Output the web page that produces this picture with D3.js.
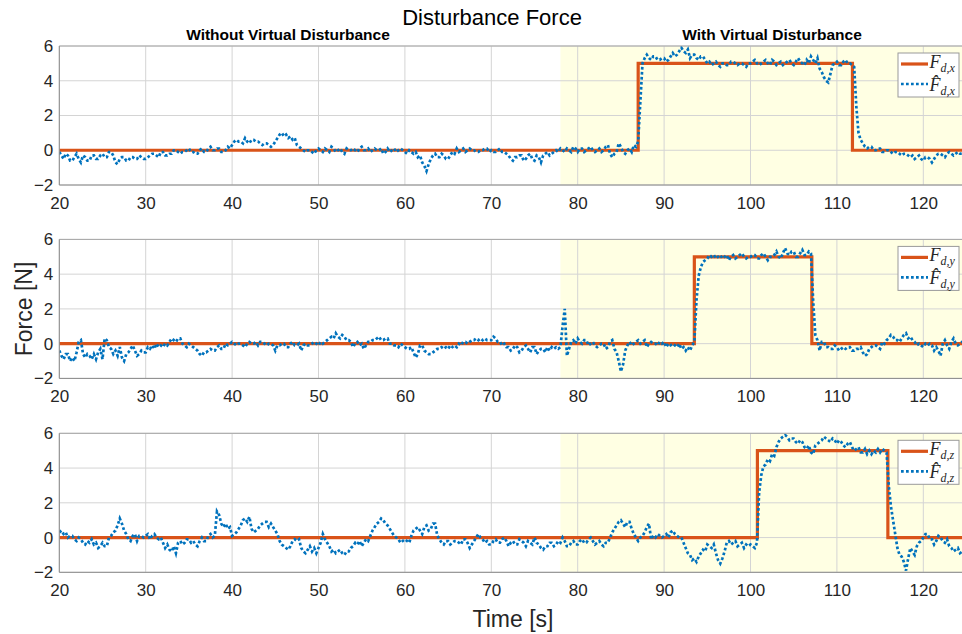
<!DOCTYPE html>
<html>
<head>
<meta charset="utf-8">
<script src="https://cdn.jsdelivr.net/npm/d3@7"></script>
<style>
  body { margin: 0; background: #fff; }
  svg { display: block; font-family: "Liberation Sans", Arial, Helvetica, sans-serif; }
</style>
</head>
<body>
<svg id="chart" width="962" height="634"></svg>
<script>
// ---- axis setup ----
const xDomain = [20, 125];
const yDomain = [-2, 6];
const xTicks = [20, 30, 40, 50, 60, 70, 80, 90, 100, 110, 120];
const yTicks = [-2, 0, 2, 4, 6];
const shadeStart = 78;           // virtual disturbance phase begins here
const components = ["x", "y", "z"];

// ---- applied disturbance (step profile: value holds until next switch time) ----
const fxSwitchTimes = [20, 87.0, 111.8, 125];
const fxApplied     = [0, 5, 0, 0];
const fySwitchTimes = [20, 93.5, 107.1, 125];
const fyApplied     = [0, 5, 0, 0];
const fzSwitchTimes = [20, 100.8, 115.9, 125];
const fzApplied     = [0, 5, 0, 0];

// ---- estimated disturbance, sampled every 0.25 s from t = 20 s ----
const sampleStart = 20;
const sampleStep = 0.25;

const fxEstimate = [
  -0.1,-0.3,-0.5,-0.2,  -0.3,-0.6,-0.6,-0.4,  -0.2,-0.5,-0.7,-0.3,  -0.4,-0.6,-0.6,-0.3,  -0.3,-0.5,-0.5,-0.3,
  -0.2,-0.4,-0.4,-0.1,  -0.1,-0.3,-0.7,-0.8,  -0.5,-0.4,-0.4,-0.6,  -0.6,-0.4,-0.4,-0.5,  -0.5,-0.3,-0.4,-0.5,
  -0.5,-0.4,-0.3,-0.2,  -0.2,-0.3,-0.4,-0.1,  -0.1,-0.3,-0.3,-0.2,  -0.2,0.0,0.0,-0.1,    -0.2,-0.1,-0.1,0.0,
  0.1,-0.1,-0.1,-0.2,   -0.2,0.0,0.1,-0.1,    -0.1,0.1,0.2,0.0,     0.0,0.1,0.1,-0.1,     -0.1,0.0,0.2,0.1,
  0.3,0.5,0.6,0.5,      0.5,0.4,0.7,0.5,      0.4,0.6,0.6,0.5,      0.5,0.4,0.3,0.4,      0.4,0.3,0.2,0.3,
  0.5,0.7,0.9,1.0,      0.8,0.9,0.7,0.8,      0.6,0.7,0.3,0.2,      0.1,0.0,-0.1,0.0,     0.0,-0.1,-0.2,0.0,
  0.1,0.0,-0.1,0.1,     0.0,-0.1,0.2,0.1,     -0.1,0.0,0.1,-0.1,    -0.2,0.1,0.0,0.0,     0.1,0.0,-0.1,0.1,
  0.2,0.0,0.0,0.1,      -0.1,0.0,0.1,0.0,     0.0,0.1,-0.2,-0.1,    0.1,-0.1,0.0,0.1,     -0.1,0.0,0.1,0.0,
  -0.1,-0.2,0.0,-0.1,   -0.2,-0.1,-0.4,-0.3,  -0.7,-0.9,-1.2,-0.8,  -0.5,-0.3,-0.2,-0.4,  -0.4,-0.2,-0.3,-0.5,
  -0.5,-0.3,-0.1,-0.2,  0.1,-0.1,0.0,0.1,     -0.1,0.0,0.1,0.0,     0.0,-0.1,-0.1,0.0,    0.0,0.1,0.1,-0.1,
  0.0,-0.1,-0.1,0.0,    0.1,-0.1,-0.1,-0.2,   -0.3,-0.5,-0.6,-0.4,  -0.4,-0.3,-0.3,-0.6,  -0.5,-0.3,-0.2,-0.5,
  -0.6,-0.3,-0.4,-0.7,  -0.3,-0.2,-0.1,-0.3,  -0.2,-0.1,0.0,-0.1,   0.1,0.0,-0.1,0.1,     0.0,-0.1,0.2,0.1,
  -0.1,0.1,0.1,-0.1,    0.0,0.1,0.2,0.0,      -0.1,0.0,0.1,-0.1,    0.0,0.2,0.3,-0.2,     -0.4,-0.2,-0.1,0.4,
  0.2,-0.1,-0.2,0.0,    0.1,-0.1,0.3,0.2,     0.5,2.8,5.0,5.3,      5.5,5.3,5.2,5.4,      5.4,5.2,5.2,5.3,
  5.3,5.1,5.2,5.4,      5.6,5.4,5.5,5.7,      5.9,5.7,5.6,5.8,      5.3,5.5,5.5,5.3,      5.2,5.4,5.4,5.2,
  5.0,5.1,4.9,5.0,      5.1,4.9,4.8,5.0,      5.0,4.9,4.9,5.1,      5.1,5.0,4.9,5.0,      5.0,4.9,4.8,5.0,
  5.0,5.1,5.2,5.0,      4.9,5.0,5.1,5.2,      5.0,4.9,5.2,5.1,      4.9,5.0,5.1,4.9,      5.0,5.1,5.2,5.0,
  4.9,5.1,5.3,5.1,      5.0,4.9,5.2,5.0,      5.4,5.2,5.0,5.3,      4.7,4.5,4.2,4.0,      3.9,4.4,4.9,5.0,
  5.1,4.9,4.9,5.1,      5.2,5.0,5.0,4.9,      4.8,2.5,1.0,0.6,      0.4,0.2,0.1,0.2,      0.2,0.0,0.0,0.1,
  0.1,-0.1,-0.1,0.0,    0.0,-0.1,-0.2,-0.1,   -0.1,-0.2,-0.3,-0.2,  -0.2,-0.3,-0.4,-0.3,  -0.5,-0.4,-0.3,-0.5,
  -0.6,-0.4,-0.4,-0.5,  -0.7,-0.5,-0.3,-0.2,  -0.2,-0.3,-0.4,-0.2,  -0.1,-0.2,-0.3,-0.2,  -0.1,-0.2,-0.2,-0.3,
  -0.3
];

const fyEstimate = [
  -0.4,-0.7,-0.9,-0.6,  -0.6,-1.0,-0.8,-1.0,  -0.5,0.1,0.2,-0.6,    -0.8,-0.6,-0.7,-0.9,  -0.6,-0.9,-0.5,-0.3,
  -0.9,0.3,0.2,-0.2,    -0.3,-0.6,-0.4,-0.7,  -0.2,-0.8,-1.0,-0.6,  -0.5,-0.3,-0.1,-0.4,  -0.7,-0.6,-0.4,-0.5,
  -0.5,-0.2,-0.3,-0.1,  -0.3,0.0,-0.2,-0.1,   -0.2,0.0,-0.1,0.1,    0.3,0.2,0.1,0.3,      0.3,0.0,-0.1,-0.2,
  0.0,-0.1,-0.2,-0.3,   -0.4,-0.6,-0.7,-0.5,  -0.5,-0.4,-0.3,-0.4,  -0.4,-0.2,-0.1,-0.3,  -0.3,0.0,-0.1,0.0,
  0.1,0.0,-0.1,0.0,     0.0,-0.1,-0.2,0.0,    0.1,0.0,0.0,0.1,      -0.1,0.1,0.1,0.0,     -0.1,0.0,0.0,-0.1,
  -0.4,-0.1,-0.1,0.0,   0.0,-0.2,-0.2,0.0,    0.1,-0.1,-0.1,0.0,    -0.4,-0.1,0.0,-0.1,   -0.1,0.0,0.1,0.0,
  -0.1,0.1,0.0,0.1,     0.2,0.3,0.4,0.3,      0.6,0.4,0.3,0.5,      0.4,0.2,0.2,0.1,      -0.2,0.0,0.1,-0.1,
  0.0,-0.3,-0.1,0.1,    0.1,0.2,0.2,0.3,      0.4,0.2,0.2,0.3,      0.3,0.0,0.0,-0.1,     -0.1,-0.2,0.0,-0.1,
  -0.2,-0.3,-0.3,-0.2,  -0.5,-0.8,-0.6,-0.1,  -0.1,-0.4,-0.5,-0.6,  -0.6,-0.5,-0.4,-0.3,  -0.3,-0.2,-0.3,-0.2,
  -0.3,-0.1,-0.2,-0.1,  -0.2,0.0,-0.1,0.1,    0.1,0.0,0.1,0.2,      0.2,0.3,0.2,0.3,      0.2,0.3,0.2,0.2,
  0.2,0.4,0.3,0.1,      0.1,-0.1,0.0,-0.2,    -0.2,-0.4,-0.3,-0.1,  -0.2,-0.5,-0.4,-0.2,  -0.1,-0.3,-0.5,-0.2,
  -0.2,-0.6,-0.4,-0.3,  -0.3,-0.5,-0.2,-0.4,  -0.2,-0.3,-0.2,-0.3,  -0.2,1.0,2.0,-0.7,    -0.3,0.1,0.2,0.0,
  0.3,0.1,0.0,0.2,      0.2,-0.1,0.0,0.1,     -0.1,-0.2,-0.1,0.0,   0.0,-0.3,-0.2,0.1,    0.2,-0.3,-0.5,-1.0,
  -1.6,-1.2,-0.4,-0.1,  0.1,-0.1,0.0,0.1,     0.2,0.0,0.1,0.2,      -0.2,0.0,0.1,0.0,     0.0,-0.1,0.1,0.0,
  0.1,-0.2,0.0,-0.1,    0.0,-0.1,-0.2,0.0,    -0.3,-0.2,-0.4,-0.2,  -0.4,-0.1,0.1,2.5,    3.9,4.4,4.7,4.8,
  4.9,5.1,5.0,5.1,      4.9,5.0,5.1,4.9,      5.0,5.1,4.8,5.0,      5.1,4.9,5.0,5.1,      5.2,5.0,4.9,5.0,
  5.0,5.1,5.1,4.9,      4.9,5.1,5.2,5.0,      4.8,5.0,5.0,5.1,      5.3,5.0,4.9,5.2,      5.5,5.2,5.1,5.3,
  5.3,5.0,5.0,5.2,      5.4,5.1,5.1,5.3,      5.2,2.5,0.5,0.2,      -0.4,0.1,0.1,-0.2,    -0.2,-0.3,-0.3,-0.1,
  -0.2,-0.4,-0.3,-0.2,  -0.3,-0.2,-0.2,-0.4,  -0.4,-0.3,-0.3,-0.2,  -0.5,-0.7,-0.6,-0.3,  -0.2,-0.1,-0.1,-0.2,
  -0.3,0.1,0.0,0.2,     0.3,0.5,0.4,0.2,      0.2,0.1,0.3,0.5,      0.6,0.3,0.4,0.2,      0.1,-0.1,0.0,-0.1,
  -0.2,0.0,-0.1,0.0,    -0.1,-0.4,-0.2,-0.4,  -0.7,0.0,0.2,-0.1,    -0.3,0.1,0.3,0.0,     -0.1,0.0,0.1,0.0,
  -0.2
];

const fzEstimate = [
  0.3,0.4,0.2,0.3,      0.0,0.1,0.1,-0.1,     -0.2,0.0,-0.1,-0.3,   -0.4,-0.2,-0.3,-0.1,  -0.4,-0.3,-0.6,-0.5,
  -0.3,-0.5,-0.5,0.0,   0.1,0.3,0.4,0.7,      1.1,0.8,0.4,0.2,      -0.1,-0.2,0.1,0.2,    -0.2,0.1,0.1,0.0,
  0.1,0.2,-0.1,0.1,     0.2,0.0,-0.1,0.0,     -0.3,-0.6,-0.4,-0.7,  -0.8,-0.5,-0.9,-0.3,  -0.2,-0.4,-0.3,-0.1,
  -0.1,-0.3,-0.2,-0.4,  -0.5,-0.2,0.0,-0.2,   -0.2,0.1,0.2,0.0,     0.1,1.5,1.3,0.8,      0.6,0.8,0.5,0.6,
  0.1,0.2,0.3,0.5,      0.7,1.0,1.1,0.9,      1.2,0.5,0.3,0.4,      0.5,0.7,0.8,0.9,      0.9,0.6,0.8,0.6,
  0.4,0.2,-0.2,-0.4,    -0.5,-0.6,-0.7,-0.5,  -0.2,-0.1,-0.2,-0.1,  -0.6,-0.8,-0.9,-0.7,  -0.5,-0.8,-0.6,-0.9,
  -0.6,-0.3,0.2,-0.1,   -0.3,-0.5,-0.8,-0.7,  -0.9,-0.8,-0.7,-0.9,  -1.0,-0.8,-0.8,-0.6,  -0.5,-0.3,-0.4,-0.2,
  -0.5,-0.3,-0.1,-0.2,  0.1,0.4,0.6,0.8,      0.9,1.1,1.0,0.8,      0.7,0.5,0.3,0.1,      0.0,-0.1,-0.3,-0.2,
  -0.1,-0.2,-0.3,0.1,   0.4,0.5,0.6,0.4,      0.2,0.6,0.7,0.4,      0.5,0.8,0.8,0.1,      -0.1,-0.3,-0.4,-0.2,
  -0.2,-0.4,-0.3,-0.2,  -0.2,-0.3,-0.4,-0.1,  -0.1,-0.3,-0.6,-0.4,  -0.2,0.0,0.2,0.0,     -0.1,-0.3,-0.2,-0.4,
  -0.4,-0.2,-0.1,-0.3,  -0.3,-0.1,0.0,-0.2,   -0.5,-0.3,-0.2,-0.4,  -0.4,-0.1,-0.2,-0.3,  -0.5,-0.2,-0.3,-0.4,
  0.0,-0.3,-0.4,-0.6,   -0.7,-0.5,-0.5,-0.3,  -0.3,-0.5,-0.4,-0.2,  -0.3,0.0,-0.2,-0.5,   -0.5,-0.3,-0.2,-0.4,
  -0.4,-0.2,-0.1,-0.3,  -0.3,-0.1,0.0,-0.2,   -0.4,-0.3,-0.2,-0.4,  -0.5,-0.3,-0.3,0.0,   0.3,0.5,0.7,0.9,
  1.0,0.8,0.6,0.9,      0.9,0.5,0.2,0.0,      -0.2,0.0,0.1,0.3,     0.6,0.8,-0.1,0.1,     0.0,0.2,0.1,0.0,
  0.1,0.2,0.0,0.3,      0.4,0.2,0.1,0.0,      0.0,-0.3,-0.6,-0.9,   -1.0,-1.3,-1.2,-1.4,  -1.1,-0.9,-0.7,-0.8,
  -0.4,-0.5,-0.6,-0.4,  -0.9,-1.3,-1.5,-1.2,  -0.8,-0.3,-0.2,-0.4,  -0.3,-0.2,-0.5,-0.4,  -0.3,-0.6,-0.4,-0.5,
  -0.4,-0.5,-0.6,-0.3,  2.6,3.6,4.1,4.2,      4.5,4.4,4.8,4.7,      5.2,5.5,5.7,5.8,      5.9,5.8,5.6,5.7,
  5.7,5.5,5.4,5.6,      5.5,5.2,5.1,5.3,      4.9,4.8,5.3,5.4,      5.5,5.6,5.8,5.7,      5.6,5.5,5.7,5.6,
  5.4,5.6,5.5,5.3,      5.2,5.4,5.5,5.2,      5.0,5.1,5.2,4.9,      4.9,5.1,4.8,5.0,      4.8,5.0,4.9,5.1,
  4.9,5.1,5.0,4.9,      3.0,1.8,1.0,0.2,      -0.6,-1.0,-1.1,-1.4,  -1.9,-1.2,-0.6,-0.8,  -1.0,-0.5,-0.3,-0.2,
  0.0,0.2,0.2,-0.1,     -0.1,-0.4,-0.2,0.1,   0.0,-0.2,-0.3,-0.1,   -0.5,-0.6,-0.8,-0.7,  -0.6,-0.9,-0.8,-1.0,
  -1.0
];

// ---- styling ----
const colApplied = "#D95319";
const colEstimate = "#0072BD";
const shadeFill = "#FFFFE3";
const gridColor = "#d4d4d4";
const frameColor = "#8a8a8a";
const textColor = "#262626";

const plotLeft = 59.3, plotRight = 966.5;
const panelTops = [46, 239.4, 433.3];
const panelHeight = 139;

const svg = d3.select("#chart");
const x = d3.scaleLinear().domain(xDomain).range([plotLeft, plotRight]);

const panels = [
  { comp: components[0], times: fxSwitchTimes, applied: fxApplied, est: fxEstimate },
  { comp: components[1], times: fySwitchTimes, applied: fyApplied, est: fyEstimate },
  { comp: components[2], times: fzSwitchTimes, applied: fzApplied, est: fzEstimate }
];

const defs = svg.append("defs");
const serif = "Liberation Serif, Times New Roman, serif";

panels.forEach((p, i) => {
  const top = panelTops[i];
  const bottom = top + panelHeight;
  const y = d3.scaleLinear().domain(yDomain).range([bottom, top]);
  const g = svg.append("g");

  const clipId = "plotclip" + i;
  defs.append("clipPath").attr("id", clipId)
    .append("rect")
    .attr("x", x(xDomain[0])).attr("y", top)
    .attr("width", x(xDomain[1]) - x(xDomain[0])).attr("height", panelHeight);

  // shaded phase with the virtual disturbance
  g.append("rect")
    .attr("x", x(shadeStart)).attr("y", top)
    .attr("width", x(xDomain[1]) - x(shadeStart)).attr("height", panelHeight)
    .attr("fill", shadeFill);

  // grid
  g.append("g").selectAll("line").data(xTicks).join("line")
    .attr("x1", d => x(d)).attr("x2", d => x(d))
    .attr("y1", top).attr("y2", bottom)
    .attr("stroke", gridColor).attr("stroke-width", 1);
  g.append("g").selectAll("line").data(yTicks).join("line")
    .attr("x1", plotLeft).attr("x2", plotRight)
    .attr("y1", d => y(d)).attr("y2", d => y(d))
    .attr("stroke", gridColor).attr("stroke-width", 1);

  const plot = g.append("g").attr("clip-path", `url(#${clipId})`);

  // applied step force
  plot.append("path")
    .datum(p.times.map((t, k) => [t, p.applied[k]]))
    .attr("d", d3.line().x(d => x(d[0])).y(d => y(d[1])).curve(d3.curveStepAfter))
    .attr("fill", "none")
    .attr("stroke", colApplied)
    .attr("stroke-width", 3.2);

  // estimated force
  plot.append("path")
    .datum(p.est)
    .attr("d", d3.line().x((d, k) => x(sampleStart + k * sampleStep)).y(d => y(d)))
    .attr("fill", "none")
    .attr("stroke", colEstimate)
    .attr("stroke-width", 2.7)
    .attr("stroke-dasharray", "2.7,2.3");

  // frame
  g.append("line").attr("x1", plotLeft).attr("x2", plotRight).attr("y1", top).attr("y2", top)
    .attr("stroke", "#a6a6a6");
  g.append("line").attr("x1", plotLeft).attr("x2", plotRight).attr("y1", bottom).attr("y2", bottom)
    .attr("stroke", frameColor);
  g.append("line").attr("x1", plotLeft).attr("x2", plotLeft).attr("y1", top).attr("y2", bottom)
    .attr("stroke", frameColor);

  // tick labels
  const ax = g.append("g").attr("transform", `translate(0,${bottom})`)
    .call(d3.axisBottom(x).tickValues(xTicks).tickSize(0).tickPadding(12).tickFormat(d3.format("d")));
  ax.select(".domain").remove();
  ax.selectAll("text").attr("fill", textColor).attr("font-size", 17)
    .attr("font-family", "Liberation Sans, Arial, sans-serif");

  const ay = g.append("g").attr("transform", `translate(${plotLeft},0)`)
    .call(d3.axisLeft(y).tickValues(yTicks).tickSize(0).tickPadding(6).tickFormat(d3.format("d")));
  ay.select(".domain").remove();
  ay.selectAll("text").attr("fill", textColor).attr("font-size", 17)
    .attr("font-family", "Liberation Sans, Arial, sans-serif");

  // legend
  const lg = g.append("g").attr("transform", `translate(898,${top + 7})`);
  lg.append("rect").attr("x", 0).attr("y", 0).attr("width", 61).attr("height", 44)
    .attr("fill", "#fff").attr("stroke", "#9a9a9a").attr("stroke-width", 1);
  lg.append("line").attr("x1", 3).attr("x2", 30).attr("y1", 11).attr("y2", 11)
    .attr("stroke", colApplied).attr("stroke-width", 3.2);
  lg.append("line").attr("x1", 3).attr("x2", 30).attr("y1", 31).attr("y2", 31)
    .attr("stroke", colEstimate).attr("stroke-width", 2.7).attr("stroke-dasharray", "2.7,2.3");

  const t1 = lg.append("text").attr("x", 31.5).attr("y", 15)
    .attr("font-family", serif).attr("font-style", "italic").attr("font-size", 18).attr("fill", textColor);
  t1.append("tspan").text("F");
  t1.append("tspan").attr("dy", 4).attr("font-size", 12).text("d," + p.comp);

  // estimate symbol: F with a circumflex accent
  const t2 = lg.append("text").attr("x", 31.5).attr("y", 38)
    .attr("font-family", serif).attr("font-style", "italic").attr("font-size", 18).attr("fill", textColor);
  t2.append("tspan").text("F\u0302");
  t2.append("tspan").attr("dy", 4).attr("font-size", 12).text("d," + p.comp);
});

// titles and axis labels
svg.append("text").attr("x", 492).attr("y", 25).attr("text-anchor", "middle")
  .attr("font-size", 22).attr("fill", "#000").text("Disturbance Force");
svg.append("text").attr("x", 288).attr("y", 40).attr("text-anchor", "middle")
  .attr("font-size", 15.5).attr("font-weight", "bold").attr("fill", "#000").text("Without Virtual Disturbance");
svg.append("text").attr("x", 772).attr("y", 40).attr("text-anchor", "middle")
  .attr("font-size", 15.5).attr("font-weight", "bold").attr("fill", "#000").text("With Virtual Disturbance");
svg.append("text").attr("transform", "translate(32,309) rotate(-90)").attr("text-anchor", "middle")
  .attr("font-size", 23).attr("fill", textColor).text("Force [N]");
svg.append("text").attr("x", 513).attr("y", 627).attr("text-anchor", "middle")
  .attr("font-size", 23).attr("fill", textColor).text("Time [s]");
</script>
</body>
</html>
